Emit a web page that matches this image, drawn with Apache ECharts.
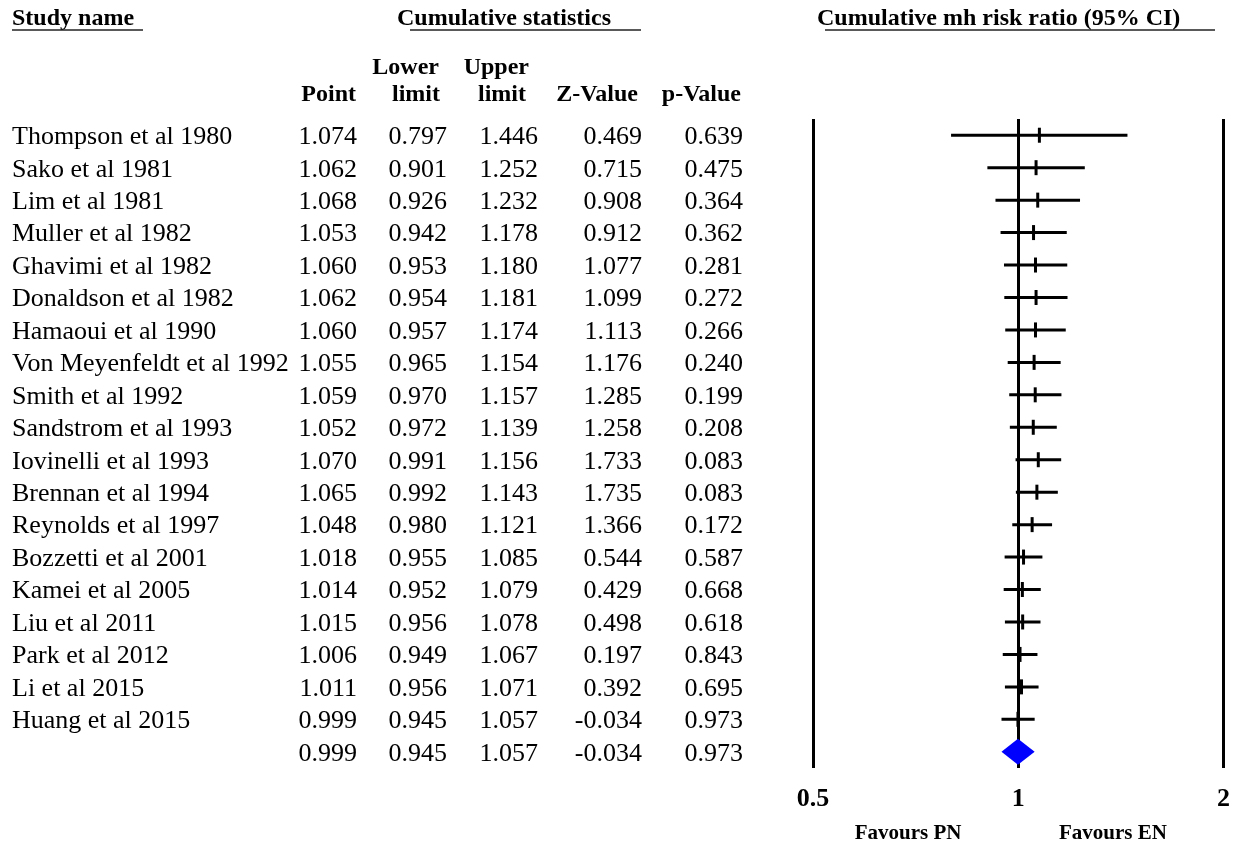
<!DOCTYPE html>
<html>
<head>
<meta charset="utf-8">
<title>Cumulative meta-analysis</title>
<script src="https://cdn.jsdelivr.net/npm/echarts@6/dist/echarts.min.js"></script>
<style>
  html, body { margin: 0; padding: 0; background: #fff; }
  #chart { width: 1233px; height: 845px; }
</style>
</head>
<body>
<div id="chart"></div>
<script>
// Cumulative Mantel-Haenszel risk ratios, one study added per row
const studies = [
  'Thompson et al 1980', 'Sako et al 1981', 'Lim et al 1981', 'Muller et al 1982',
  'Ghavimi et al 1982', 'Donaldson et al 1982', 'Hamaoui et al 1990',
  'Von Meyenfeldt et al 1992', 'Smith et al 1992', 'Sandstrom et al 1993',
  'Iovinelli et al 1993', 'Brennan et al 1994', 'Reynolds et al 1997',
  'Bozzetti et al 2001', 'Kamei et al 2005', 'Liu et al 2011', 'Park et al 2012',
  'Li et al 2015', 'Huang et al 2015', ''
];
const point  = [1.074, 1.062, 1.068, 1.053, 1.060, 1.062, 1.060, 1.055, 1.059, 1.052, 1.070, 1.065, 1.048, 1.018, 1.014, 1.015, 1.006, 1.011, 0.999, 0.999];
const lower  = [0.797, 0.901, 0.926, 0.942, 0.953, 0.954, 0.957, 0.965, 0.970, 0.972, 0.991, 0.992, 0.980, 0.955, 0.952, 0.956, 0.949, 0.956, 0.945, 0.945];
const upper  = [1.446, 1.252, 1.232, 1.178, 1.180, 1.181, 1.174, 1.154, 1.157, 1.139, 1.156, 1.143, 1.121, 1.085, 1.079, 1.078, 1.067, 1.071, 1.057, 1.057];
const zValue = [0.469, 0.715, 0.908, 0.912, 1.077, 1.099, 1.113, 1.176, 1.285, 1.258, 1.733, 1.735, 1.366, 0.544, 0.429, 0.498, 0.197, 0.392, -0.034, -0.034];
const pValue = [0.639, 0.475, 0.364, 0.362, 0.281, 0.272, 0.266, 0.240, 0.199, 0.208, 0.083, 0.083, 0.172, 0.587, 0.668, 0.618, 0.843, 0.695, 0.973, 0.973];
const axisTicks = [0.5, 1, 2];
const summaryRow = studies.length - 1;

const SERIF = '"Liberation Serif", "Times New Roman", serif';
const bodyFont = '26px ' + SERIF;
const headFont = 'bold 24px ' + SERIF;

// right edges of the numeric columns
const numCols = [
  { right: 357, values: point },
  { right: 447, values: lower },
  { right: 538, values: upper },
  { right: 642, values: zValue },
  { right: 743, values: pValue }
];

const ciData = point.map((p, i) => [p, i, lower[i], upper[i]]);
const tableData = studies.map((s, i) => [1, i]);

const chart = echarts.init(document.getElementById('chart'), null, { renderer: 'canvas' });

function headText(text, x, y, align) {
  return { type: 'text', style: { text, x, y, font: headFont, fill: '#000', align: align || 'left', verticalAlign: 'middle' } };
}
function underline(x1, x2, y) {
  return { type: 'line', shape: { x1, y1: y, x2, y2: y }, style: { stroke: '#222', lineWidth: 1.5 } };
}

chart.setOption({
  animation: false,
  backgroundColor: '#ffffff',
  grid: { left: 813, right: 8, top: 119, height: 649, containLabel: false },
  xAxis: {
    type: 'log',
    logBase: 2,
    min: axisTicks[0],
    max: axisTicks[axisTicks.length - 1],
    axisLine: { show: false },
    axisTick: { show: false },
    splitLine: { show: true, lineStyle: { color: '#000', width: 3 } },
    axisLabel: {
      margin: 18,
      fontFamily: SERIF,
      fontWeight: 'bold',
      fontSize: 26,
      color: '#000',
      formatter: v => String(+v.toFixed(2))
    }
  },
  yAxis: {
    type: 'category',
    data: studies,
    inverse: true,
    show: false
  },
  series: [
    {
      // confidence intervals with the point estimate tick; pooled row as a diamond
      type: 'custom',
      data: ciData,
      encode: { x: [0, 2, 3], y: 1 },
      z: 5,
      renderItem(params, api) {
        const idx = api.value(1);
        const [xp, y] = api.coord([api.value(0), idx]);
        const xl = api.coord([api.value(2), idx])[0];
        const xh = api.coord([api.value(3), idx])[0];
        if (idx === summaryRow) {
          return {
            type: 'polygon',
            shape: { points: [[xl, y], [xp, y - 13], [xh, y], [xp, y + 13]] },
            style: { fill: '#0000ff' }
          };
        }
        return {
          type: 'group',
          children: [
            { type: 'line', shape: { x1: xl, y1: y, x2: xh, y2: y }, style: { stroke: '#000', lineWidth: 3 } },
            { type: 'line', shape: { x1: xp, y1: y - 7.5, x2: xp, y2: y + 7.5 }, style: { stroke: '#000', lineWidth: 3 } }
          ]
        };
      }
    },
    {
      // the statistics table, aligned on the same row scale
      type: 'custom',
      data: tableData,
      encode: { x: 0, y: 1 },
      clip: false,
      silent: true,
      renderItem(params, api) {
        const idx = api.value(1);
        const y = api.coord([1, idx])[1] + 2;
        const children = [
          { type: 'text', style: { text: studies[idx], x: 12, y, font: bodyFont, fill: '#000', align: 'left', verticalAlign: 'middle' } }
        ];
        numCols.forEach(c => {
          children.push({
            type: 'text',
            style: { text: c.values[idx].toFixed(3), x: c.right, y, font: bodyFont, fill: '#000', align: 'right', verticalAlign: 'middle' }
          });
        });
        return { type: 'group', children };
      }
    }
  ],
  graphic: [
    headText('Study name', 12, 19),
    underline(12, 143, 30),
    headText('Cumulative statistics', 397, 19),
    underline(410, 641, 30),
    headText('Cumulative mh risk ratio (95% CI)', 817, 19),
    underline(825, 1215, 30),
    headText('Lower', 439, 68, 'right'),
    headText('Upper', 529, 68, 'right'),
    headText('Point', 356, 95, 'right'),
    headText('limit', 440, 95, 'right'),
    headText('limit', 526, 95, 'right'),
    headText('Z-Value', 638, 95, 'right'),
    headText('p-Value', 741, 95, 'right'),
    { type: 'text', style: { text: 'Favours PN', x: 908, y: 834, font: 'bold 21px ' + SERIF, fill: '#000', align: 'center', verticalAlign: 'middle' } },
    { type: 'text', style: { text: 'Favours EN', x: 1113, y: 834, font: 'bold 21px ' + SERIF, fill: '#000', align: 'center', verticalAlign: 'middle' } }
  ]
});
</script>
</body>
</html>
